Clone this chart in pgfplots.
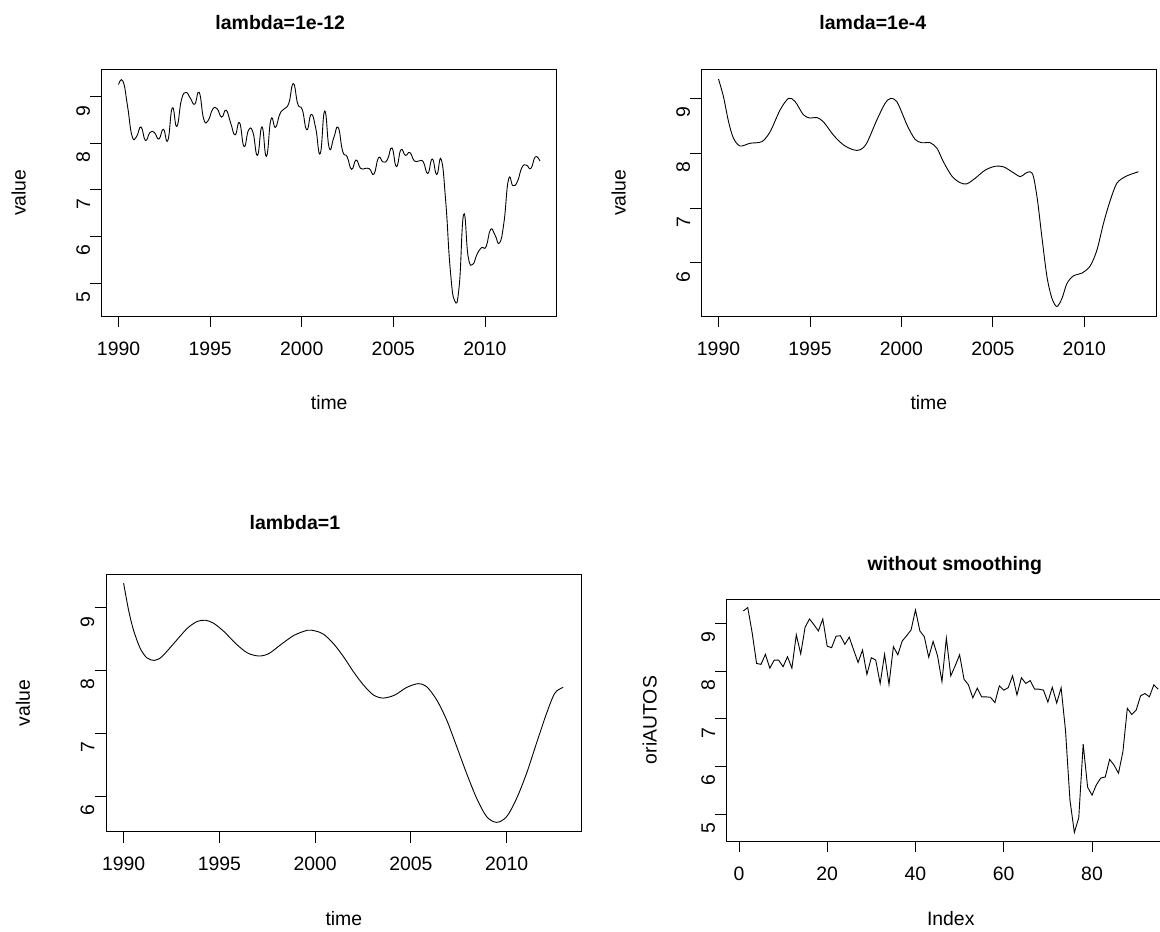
\documentclass[border=0pt]{standalone}
\usepackage{pgfplots}
\usepackage{pgfplotstable}
\pgfplotsset{compat=1.18}
\usepackage{fontspec}
\setmainfont{Liberation Sans}

\pgfplotstableread{
i t v
1 1990.000 9.26
2 1990.245 9.33
3 1990.489 8.80
4 1990.734 8.16
5 1990.979 8.14
6 1991.223 8.35
7 1991.468 8.06
8 1991.713 8.23
9 1991.957 8.23
10 1992.202 8.09
11 1992.447 8.30
12 1992.691 8.06
13 1992.936 8.76
14 1993.181 8.36
15 1993.426 8.92
16 1993.670 9.09
17 1993.915 8.97
18 1994.160 8.84
19 1994.404 9.09
20 1994.649 8.52
21 1994.894 8.49
22 1995.138 8.73
23 1995.383 8.74
24 1995.628 8.56
25 1995.872 8.71
26 1996.117 8.44
27 1996.362 8.18
28 1996.606 8.44
29 1996.851 7.93
30 1997.096 8.28
31 1997.340 8.23
32 1997.585 7.74
33 1997.830 8.35
34 1998.074 7.72
35 1998.319 8.51
36 1998.564 8.34
37 1998.809 8.63
38 1999.053 8.74
39 1999.298 8.86
40 1999.543 9.28
41 1999.787 8.84
42 2000.032 8.72
43 2000.277 8.29
44 2000.521 8.62
45 2000.766 8.32
46 2001.011 7.78
47 2001.255 8.69
48 2001.500 7.90
49 2001.745 8.11
50 2001.989 8.34
51 2002.234 7.83
52 2002.479 7.71
53 2002.723 7.44
54 2002.968 7.64
55 2003.213 7.46
56 2003.457 7.46
57 2003.702 7.45
58 2003.947 7.34
59 2004.191 7.69
60 2004.436 7.60
61 2004.681 7.65
62 2004.926 7.90
63 2005.170 7.50
64 2005.415 7.86
65 2005.660 7.74
66 2005.904 7.80
67 2006.149 7.62
68 2006.394 7.62
69 2006.638 7.60
70 2006.883 7.35
71 2007.128 7.66
72 2007.372 7.33
73 2007.617 7.65
74 2007.862 6.75
75 2008.106 5.30
76 2008.351 4.62
77 2008.596 4.93
78 2008.840 6.47
79 2009.085 5.57
80 2009.330 5.40
81 2009.574 5.62
82 2009.819 5.76
83 2010.064 5.78
84 2010.309 6.15
85 2010.553 6.03
86 2010.798 5.86
87 2011.043 6.31
88 2011.287 7.22
89 2011.532 7.09
90 2011.777 7.18
91 2012.021 7.48
92 2012.266 7.53
93 2012.511 7.46
94 2012.755 7.71
95 2013.000 7.62
}\rawdata

\pgfplotstableread{
t v
1990.00 9.35
1990.27 9.03
1990.55 8.57
1990.82 8.27
1991.18 8.13
1991.73 8.18
1992.37 8.21
1992.82 8.39
1993.37 8.79
1993.83 9.00
1994.19 8.94
1994.64 8.70
1995.00 8.64
1995.37 8.65
1995.74 8.57
1996.28 8.33
1996.83 8.15
1997.38 8.06
1997.74 8.06
1998.10 8.18
1998.65 8.60
1999.11 8.91
1999.42 9.00
1999.75 8.94
2000.11 8.67
2000.35 8.48
2000.75 8.25
2001.12 8.19
2001.57 8.19
2001.94 8.09
2002.30 7.84
2002.76 7.58
2003.21 7.46
2003.58 7.44
2004.03 7.54
2004.58 7.69
2005.13 7.76
2005.58 7.75
2006.04 7.66
2006.50 7.57
2006.77 7.63
2007.04 7.66
2007.22 7.57
2007.44 7.14
2007.68 6.47
2007.96 5.74
2008.23 5.35
2008.50 5.20
2008.78 5.35
2009.05 5.62
2009.41 5.76
2009.87 5.81
2010.32 5.94
2010.69 6.23
2011.05 6.72
2011.42 7.14
2011.78 7.45
2012.24 7.57
2012.69 7.63
2012.96 7.66
}\lamA

\pgfplotstableread{
t v
1990.00 9.39
1990.26 8.96
1990.52 8.64
1990.87 8.35
1991.22 8.20
1991.61 8.16
1992.00 8.22
1992.62 8.43
1993.32 8.67
1993.84 8.78
1994.28 8.80
1994.71 8.75
1995.24 8.62
1995.85 8.43
1996.46 8.28
1997.07 8.23
1997.59 8.27
1998.20 8.41
1998.90 8.56
1999.60 8.64
2000.00 8.63
2000.43 8.58
2000.95 8.43
2001.48 8.22
2002.00 7.98
2002.52 7.77
2003.04 7.61
2003.56 7.56
2004.17 7.61
2004.78 7.73
2005.39 7.79
2005.83 7.74
2006.35 7.53
2006.87 7.21
2007.39 6.79
2007.91 6.36
2008.44 5.96
2008.96 5.67
2009.48 5.58
2010.00 5.67
2010.52 5.96
2011.04 6.36
2011.56 6.84
2012.09 7.32
2012.52 7.64
2012.95 7.73
}\lamB

\newcommand\basefont{\fontsize{19.4}{23}\selectfont}
\pgfplotsset{
  rplot/.style={
    scale only axis,
    anchor=south west,
    axis line style={black, line width=0.8pt},
    every tick/.style={black, line width=0.8pt},
    tick align=outside,
    major tick length=11.5pt,
    xtick pos=bottom, ytick pos=left,
    tick label style={font=\basefont},
    /pgf/number format/assume math mode=true,
    /pgf/number format/1000 sep={},
    xticklabel style={anchor=north, inner sep=0pt, yshift=-14pt},
    yticklabel style={rotate=90, anchor=south, inner sep=0pt, xshift=-14pt},
    every axis title/.style={at={([yshift=47pt]axis description cs:0.5,1)}, anchor=center, font=\bfseries\fontsize{19.5}{23}\selectfont},
    every axis x label/.style={at={([yshift=-87pt]axis description cs:0.5,0)}, anchor=center, font=\basefont},
    every axis y label/.style={at={([xshift=-83pt]axis description cs:0,0.5)}, anchor=center, rotate=90, font=\basefont},
    every axis plot/.append style={black, line width=0.9pt},
  },
  timeaxis/.style={rplot, xmin=1989.08, xmax=2013.92, xtick={1990,1995,2000,2005,2010}, xlabel={time}, ylabel={value}},
}

\begin{document}
\begin{tikzpicture}
\begin{axis}[timeaxis, at={(101.7pt,616pt)}, width=455pt, height=246.7pt,
  ymin=4.293, ymax=9.587, ytick={5,6,7,8,9}, title={lambda=1e-12},
  title style={xshift=-49pt}]
\addplot[smooth, tension=0.85] table[x=t, y=v] {\rawdata};
\end{axis}
\begin{axis}[timeaxis, at={(701.7pt,616pt)}, width=454.3pt, height=246.7pt,
  ymin=5.027, ymax=9.53, ytick={6,7,8,9}, title={lamda=1e-4},
  title style={xshift=-56pt}]
\addplot[smooth] table[x=t, y=v] {\lamA};
\end{axis}
\begin{axis}[timeaxis, at={(106pt,100.3pt)}, width=475.7pt, height=257.7pt,
  ymin=5.431, ymax=9.537, ytick={6,7,8,9}, title={lambda=1},
  title style={xshift=-49pt, yshift=4pt}]
\addplot[smooth] table[x=t, y=v] {\lamB};
\end{axis}
\begin{axis}[rplot, at={(726.7pt,91pt)}, width=448.1pt, height=242pt,
  xmin=-2.77, xmax=98.76, ymin=4.441, ymax=9.509,
  xtick={0,20,40,60,80}, ytick={5,6,7,8,9},
  title={without smoothing}, xlabel={Index}, ylabel={oriAUTOS},
  title style={xshift=4pt, yshift=-14pt},
  xlabel style={yshift=9pt},
  every axis y label/.style={at={([xshift=-77pt]axis description cs:0,0.5)}, anchor=center, rotate=90, font=\basefont}]
\addplot[sharp plot] table[x=i, y=v] {\rawdata};
\end{axis}
\pgfresetboundingbox
\path[use as bounding box] (0pt,0pt) rectangle (1160pt,932pt);
\end{tikzpicture}
\end{document}
